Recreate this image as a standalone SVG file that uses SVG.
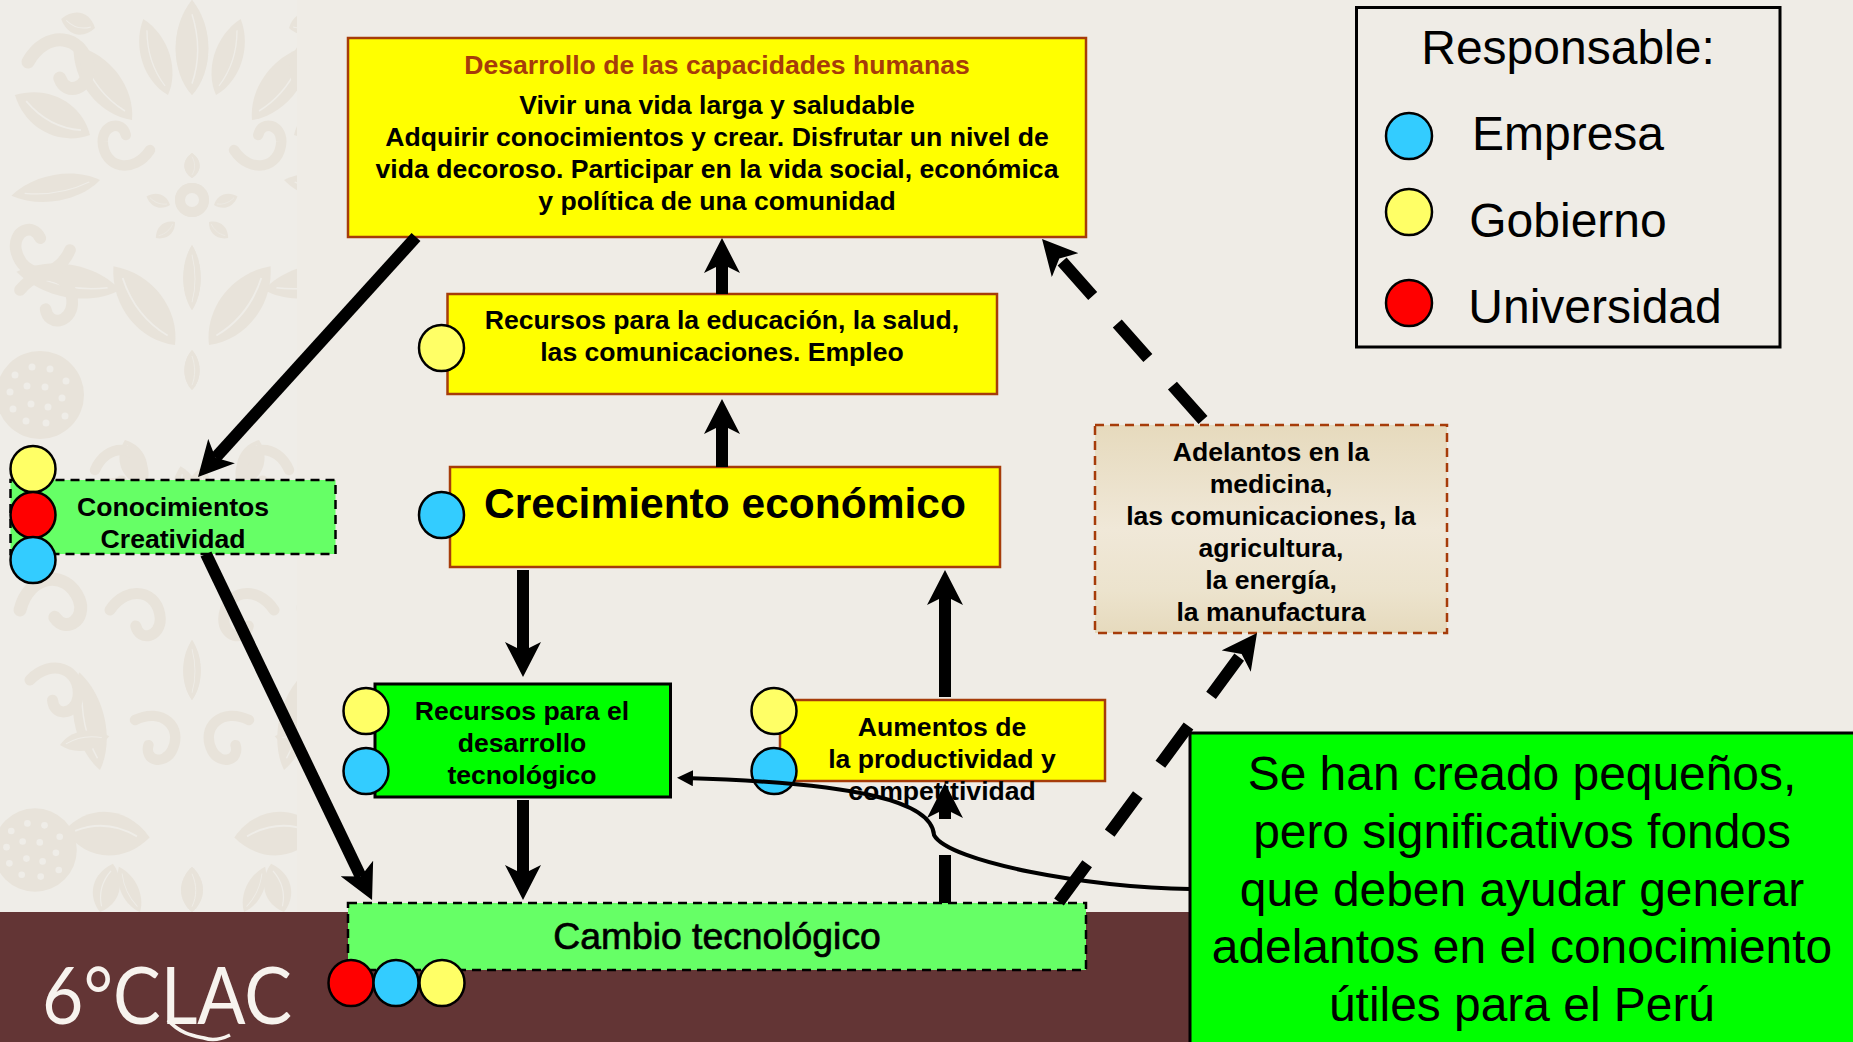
<svg xmlns="http://www.w3.org/2000/svg" width="1853" height="1042" viewBox="0 0 1853 1042">
<style>
text{font-family:"Liberation Sans",Arial,sans-serif;text-anchor:middle;fill:#000}
.b{font-weight:bold;font-size:26.6px}
.y{fill:#ff0;stroke:#a63c0a;stroke-width:2.5}
.dg{fill:#6f6;stroke:#000;stroke-width:2.5;stroke-dasharray:9 6}
.g{fill:#0f0;stroke:#000;stroke-width:3}
.cy{fill:#ff6;stroke:#000;stroke-width:2.5}
.cb{fill:#3cf;stroke:#000;stroke-width:2.5}
.cr{fill:#f00;stroke:#000;stroke-width:2.5}
.a{fill:none;stroke:#000;stroke-width:12;marker-end:url(#h)}
.l{font-size:48px}
.n{font-size:47.9px}
.m{fill:#e8e3da}
.v{fill:none;stroke:#efede8;stroke-width:2}
.c{fill:none;stroke:#e8e3da;stroke-width:13;stroke-linecap:round}
.d{fill:#efede8}
</style>
<defs>
<marker id="h" markerUnits="userSpaceOnUse" viewBox="0 0 36 36" refX="9" refY="18" markerWidth="36" markerHeight="36" orient="auto"><path d="M0 0L35 18L0 36L9 18Z" fill="#000"/></marker>
<marker id="s" markerUnits="userSpaceOnUse" viewBox="0 0 16 16" refX="8" refY="8" markerWidth="16" markerHeight="16" orient="auto"><path d="M0 0L16 8L0 16Z" fill="#000"/></marker>
<linearGradient id="tan" x1="0" y1="0" x2="0" y2="1"><stop offset="0" stop-color="#e6dabd"/><stop offset=".5" stop-color="#f0e8d8"/><stop offset=".8" stop-color="#ece3cd"/><stop offset="1" stop-color="#e6dabd"/></linearGradient>
<clipPath id="strip"><rect x="0" y="0" width="297" height="912"/></clipPath>
<g id="leaf"><path class="m" d="M0 0C-28 -25 -30 -70 0 -100C30 -70 28 -25 0 0Z"/><path class="v" d="M0 -12C-10 -35 -10 -60 0 -85"/></g>
<path id="curl" class="c" d="M0 0C30 -22 62 -2 52 30C45 50 20 48 22 28"/>
<g id="dots"><circle class="m" r="44"/><g class="d"><circle cx="-25" cy="-20" r="3.500"/><circle cx="-8" cy="-28" r="3.500"/><circle cx="10" cy="-26" r="3.500"/><circle cx="26" cy="-14" r="3.500"/><circle cx="-30" cy="-3" r="3.500"/><circle cx="-13" cy="-9" r="3.500"/><circle cx="5" cy="-8" r="3.500"/><circle cx="22" cy="3" r="3.500"/><circle cx="-27" cy="14" r="3.500"/><circle cx="-9" cy="9" r="3.500"/><circle cx="8" cy="12" r="3.500"/><circle cx="-14" cy="26" r="3.500"/><circle cx="6" cy="28" r="3.500"/><circle cx="25" cy="21" r="3.500"/></g></g>
<g id="half">
<use href="#leaf" transform="translate(192 95) scale(.75 .95)"/>
<use href="#leaf" transform="translate(168 95) rotate(-18) scale(.65 .8)"/>
<use href="#leaf" transform="translate(132 120) rotate(-38) scale(.8 .95)"/>
<use href="#leaf" transform="translate(90 135) rotate(-62) scale(.85)"/>
<use href="#curl" transform="translate(28 62) rotate(-25)"/>
<use href="#leaf" transform="translate(95 28) rotate(-75) scale(.5 .35)"/>
<use href="#curl" transform="translate(150 150) rotate(160) scale(.8)"/>
<use href="#leaf" transform="translate(100 180) rotate(-100) scale(.6 .9)"/>
<circle class="m" cx="192" cy="200" r="17"/><circle class="d" cx="192" cy="200" r="7"/>
<use href="#leaf" transform="translate(192 178) scale(.35 .25)"/>
<use href="#leaf" transform="translate(170 205) rotate(-70) scale(.3 .25)"/>
<use href="#leaf" transform="translate(175 222) rotate(-130) scale(.3 .25)"/>
<use href="#leaf" transform="translate(192 310) scale(.4 .65)"/>
<use href="#leaf" transform="translate(175 345) rotate(-38) scale(.9 1)"/>
<use href="#leaf" transform="translate(120 290) rotate(-80) scale(.75 1.05)"/>
<use href="#curl" transform="translate(70 250) rotate(150) scale(.9)"/>
<use href="#leaf" transform="translate(192 390) scale(.35 .4)"/>
<use href="#dots" transform="translate(40 395)"/>
<use href="#curl" transform="translate(20 290) rotate(-15) scale(.9)"/>
<use href="#leaf" transform="translate(125 440) rotate(160) scale(.6 .5)"/>
<use href="#curl" transform="translate(95 470) rotate(-30) scale(.8)"/>
<use href="#leaf" transform="translate(192 520) rotate(-12) scale(.6 .55)"/>
<use href="#leaf" transform="translate(140 500) rotate(-60) scale(.5 .4)"/>
<use href="#curl" transform="translate(20 610) rotate(-40)"/>
<use href="#curl" transform="translate(110 610) rotate(-20) scale(.85)"/>
<use href="#leaf" transform="translate(192 700) scale(.4 .6)"/>
<use href="#leaf" transform="translate(100 770) rotate(-12) scale(.7 1)"/>
<use href="#curl" transform="translate(135 720) rotate(10) scale(.8)"/>
<use href="#curl" transform="translate(30 680) rotate(-10) scale(.85)"/>
<use href="#leaf" transform="translate(60 745) rotate(80) scale(.45 .5)"/>
<use href="#dots" transform="translate(35 850) scale(.95)"/>
<use href="#leaf" transform="translate(65 830) rotate(95) scale(1 .85)"/>
<use href="#leaf" transform="translate(100 912) rotate(15) scale(.6 .5)"/>
<use href="#leaf" transform="translate(192 912) scale(.5 .45)"/>
<use href="#leaf" transform="translate(140 912) rotate(-25) scale(.4 .5)"/>
</g>
</defs>
<rect width="1853" height="1042" fill="#efece6"/>
<g id="pattern" clip-path="url(#strip)">
<rect width="297" height="912" fill="#efede8"/>
<use href="#half"/>
<use href="#half" transform="translate(384 0) scale(-1 1)"/>
</g>
<rect y="912" width="1853" height="130" fill="#633535"/>
<g id="logo">
<text x="167" y="1024" textLength="250" lengthAdjust="spacingAndGlyphs" style="font-family:Lato,sans-serif;font-weight:400;font-size:80px;fill:#f7f3ee">6°CLAC</text>
<path d="M168 1020C180 1034 195 1036 204 1038C212 1041 222 1039 230 1035" fill="none" stroke="#f7f3ee" stroke-width="3.500"/>
</g>
<g id="node-desarrollo">
<rect class="y" x="348" y="38" width="738" height="199"/>
<text class="b" x="717" y="74" style="fill:#a63c0a">Desarrollo de las capacidades humanas</text>
<text class="b" x="717" y="114">Vivir una vida larga y saludable</text>
<text class="b" x="717" y="146">Adquirir conocimientos y crear. Disfrutar un nivel de</text>
<text class="b" x="717" y="178">vida decoroso. Participar en la vida social, económica</text>
<text class="b" x="717" y="210">y política de una comunidad</text>
</g>
<g id="node-recursos">
<rect class="y" x="447.500" y="294" width="549.500" height="100"/>
<text class="b" x="722" y="329">Recursos para la educación, la salud,</text>
<text class="b" x="722" y="361">las comunicaciones. Empleo</text>
<ellipse class="cy" cx="441.500" cy="348" rx="22.500" ry="23"/>
</g>
<g id="node-crecimiento">
<rect class="y" x="450" y="467" width="550" height="100"/>
<text x="725" y="518" style="font-weight:bold;font-size:42.500px">Crecimiento económico</text>
<ellipse class="cb" cx="441.500" cy="515" rx="22.500" ry="23"/>
</g>
<g id="node-conocimientos">
<rect class="dg" x="10.500" y="480" width="325" height="74"/>
<text class="b" x="173" y="516">Conocimientos</text>
<text class="b" x="173" y="548">Creatividad</text>
<ellipse class="cy" cx="33" cy="469" rx="22.500" ry="23"/>
<ellipse class="cr" cx="33" cy="515" rx="22.500" ry="23"/>
<ellipse class="cb" cx="33" cy="560" rx="22.500" ry="23"/>
</g>
<g id="node-recursos-desarrollo">
<rect class="g" x="375" y="684" width="295.500" height="113"/>
<text class="b" x="522" y="720">Recursos para el</text>
<text class="b" x="522" y="752">desarrollo</text>
<text class="b" x="522" y="784">tecnológico</text>
<ellipse class="cy" cx="366" cy="711" rx="22.500" ry="23"/>
<ellipse class="cb" cx="366" cy="771" rx="22.500" ry="23"/>
</g>
<g id="node-aumentos">
<rect class="y" x="780" y="700" width="325" height="81"/>
<text class="b" x="942" y="736">Aumentos de</text>
<text class="b" x="942" y="768">la productividad y</text>
<text class="b" x="942" y="800">competitividad</text>
<ellipse class="cy" cx="774" cy="711" rx="22.500" ry="23"/>
<ellipse class="cb" cx="774" cy="771" rx="22.500" ry="23"/>
</g>
<g id="node-adelantos">
<rect x="1095" y="425" width="352" height="208" fill="url(#tan)" stroke="#a63c0a" stroke-width="2.500" stroke-dasharray="9 6"/>
<text class="b" x="1271" y="461">Adelantos en la</text>
<text class="b" x="1271" y="493">medicina,</text>
<text class="b" x="1271" y="525">las comunicaciones, la</text>
<text class="b" x="1271" y="557">agricultura,</text>
<text class="b" x="1271" y="589">la energía,</text>
<text class="b" x="1271" y="621">la manufactura</text>
</g>
<g id="node-cambio">
<rect class="dg" x="348" y="903" width="738" height="67"/>
<text x="717" y="949" style="font-size:37.300px;stroke:#000;stroke-width:.7">Cambio tecnológico</text>
<ellipse class="cr" cx="351" cy="983" rx="22.500" ry="23"/>
<ellipse class="cb" cx="396" cy="983" rx="22.500" ry="23"/>
<ellipse class="cy" cx="442" cy="983" rx="22.500" ry="23"/>
</g>
<g id="connectors">
<path class="a" d="M416 237L215.500 457.700"/>
<path class="a" d="M206 554L360.800 876.600"/>
<path class="a" d="M523 570V651"/>
<path class="a" d="M523 800V874"/>
<path class="a" d="M722 467V425"/>
<path class="a" d="M722 294V264"/>
<path class="a" d="M945 697V596"/>
<path class="a" d="M945 903V809" stroke-dasharray="48 36"/>
<path class="a" d="M1203 420L1059.300 258.400" stroke-dasharray="46 37"/>
<path class="a" d="M1059 902L1241.600 653.900" stroke-dasharray="47.500 38"/>
<path d="M1190 889C1090 888 948 862 934 835C932 802 860 783 685 778" fill="none" stroke="#000" stroke-width="4" marker-end="url(#s)"/>
</g>
<g id="node-nota">
<rect class="g" x="1190" y="733" width="670" height="320"/>
<text class="n" x="1522" y="790">Se han creado pequeños,</text>
<text class="n" x="1522" y="848">pero significativos fondos</text>
<text class="n" x="1522" y="906">que deben ayudar generar</text>
<text class="n" x="1522" y="963">adelantos en el conocimiento</text>
<text class="n" x="1522" y="1021">útiles para el Perú</text>
</g>
<g id="legend">
<rect x="1356.500" y="7.500" width="423.500" height="339.500" fill="#efece6" stroke="#000" stroke-width="3"/>
<text class="l" x="1568" y="64">Responsable:</text>
<circle class="cb" cx="1409" cy="136" r="23"/>
<text class="l" x="1568" y="150">Empresa</text>
<circle class="cy" cx="1409" cy="212" r="23"/>
<text class="l" x="1568" y="237">Gobierno</text>
<circle class="cr" cx="1409" cy="303" r="23"/>
<text class="l" x="1595" y="323">Universidad</text>
</g>
</svg>
